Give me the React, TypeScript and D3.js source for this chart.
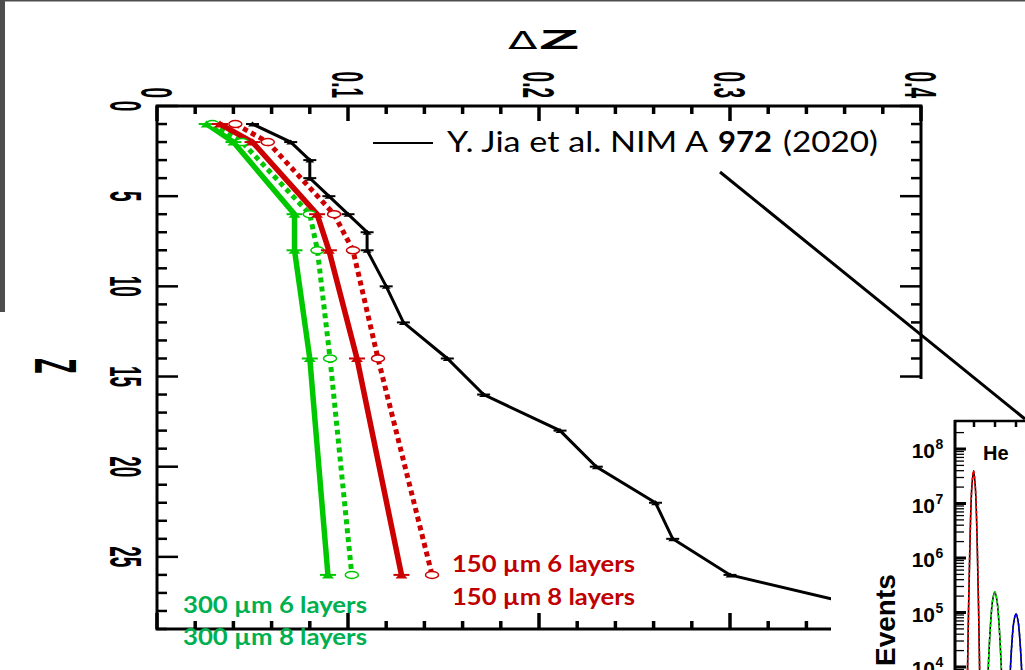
import React from "react";
import * as d3 from "d3";

// ---------- Main chart data (ΔZ versus Z) ----------
const sampleZ = [1, 2, 6, 8, 14, 26];
const green8Layers = [0.026, 0.04, 0.072, 0.072, 0.08, 0.0895]; // solid green
const green6Layers = [0.029, 0.0445, 0.08, 0.084, 0.0906, 0.102]; // dotted green
const red8Layers = [0.033, 0.05, 0.0838, 0.09, 0.1047, 0.128]; // solid red
const red6Layers = [0.041, 0.058, 0.0927, 0.1026, 0.1157, 0.144]; // dotted red

const jiaZ = [1, 2, 3, 4, 5, 6, 7, 8, 10, 12, 14, 16, 18, 20, 22, 24, 26, 28];
const jiaDZ = [0.05, 0.07, 0.08, 0.08, 0.09, 0.1, 0.11, 0.11, 0.12, 0.129, 0.152, 0.171, 0.211, 0.23, 0.261, 0.27, 0.3, 0.38];

const dzTicks = [0, 0.1, 0.2, 0.3, 0.4];
const zTicks = [0, 5, 10, 15, 20, 25];

// ---------- Inset data (Events vs charge) ----------
const heZ = [1.66, 1.74, 1.82, 1.9, 1.98, 2.06, 2.14, 2.22, 2.3];
const heEvents = [1.3e3, 1.1e5, 3e6, 2.1e7, 4e7, 2.1e7, 3e6, 1.1e5, 1.3e3];
const liZ = [2.59, 2.69, 2.79, 2.89, 2.99, 3.09, 3.19, 3.29, 3.39];
const liEvents = [1.2e3, 1.2e4, 6.3e4, 1.7e5, 2.4e5, 1.7e5, 6.3e4, 1.2e4, 1.2e3];
const beZ = [3.6, 3.7, 3.8, 3.9, 4.0, 4.1, 4.2, 4.3, 4.4];
const beEvents = [5e2, 4.9e3, 2.6e4, 6.9e4, 9.5e4, 6.9e4, 2.6e4, 4.9e3, 5e2];
const insetDecades = [4, 5, 6, 7, 8];
const insetXTicks = [2, 3, 4];

const ROOTFONT = "'Liberation Sans', Arial, sans-serif";
const SLIDEFONT = "Lato, 'Open Sans', sans-serif";
const K = 2.35; // horizontal stretch of the pasted ROOT picture

const GREEN = "#00c800";
const RED = "#cc0000";

export default function App() {
  const x = d3.scaleLinear().domain([0, 0.4]).range([157, 921]);
  const y = d3.scaleLinear().domain([0, 29]).range([106, 629]);

  const line = d3
    .line<[number, number]>()
    .x((d) => x(d[1]))
    .y((d) => y(d[0]));

  const pairs = (zs: number[], vs: number[]) => zs.map((z, i) => [z, vs[i]] as [number, number]);

  const xMinor = d3.range(0, 0.4001, 0.02);
  const yMinor = d3.range(0, 30, 1);

  // inset scales
  const xi = d3.scaleLinear().domain([2, 4]).range([974, 1016]);
  const yi = d3.scaleLog().domain([1e4, 1e8]).range([667, 449]);
  const iline = d3
    .line<[number, number]>()
    .x((d) => xi(d[0]))
    .y((d) => yi(d[1]))
    .curve(d3.curveCatmullRom);
  const logMinor: number[] = [];
  for (let e = 3; e <= 8; e++) for (let m = 2; m <= 9; m++) logMinor.push(m * Math.pow(10, e));

  const triMarker = (cx: number, cy: number, color: string, w = 12, h = 7) => (
    <g>
      <path d={`M${cx - w / 2},${cy + h / 2}L${cx + w / 2},${cy + h / 2}L${cx},${cy - h / 2}Z`} fill={color} />
      <line x1={cx - w / 2 - 2} x2={cx + w / 2 + 2} y1={cy} y2={cy} stroke={color} strokeWidth={2} />
    </g>
  );
  const circMarker = (cx: number, cy: number, color: string) => (
    <ellipse cx={cx} cy={cy} rx={6.5} ry={3.5} fill="white" stroke={color} strokeWidth={1.5} />
  );

  const series = [
    { v: green6Layers, color: GREEN, dotted: true },
    { v: red6Layers, color: RED, dotted: true },
    { v: green8Layers, color: GREEN, dotted: false },
    { v: red8Layers, color: RED, dotted: false },
  ];

  return (
    <svg
      width={1025}
      height={670}
      style={{ position: "absolute", left: 0, top: 0, background: "white" }}
      fontFamily={ROOTFONT}
    >
      <rect x={0} y={0} width={1025} height={670} fill="white" />
      {/* slide edges */}
      <rect x={0} y={0} width={1025} height={1.5} fill="#4d4d4d" />
      <rect x={0} y={0} width={5} height={312} fill="#4d4d4d" />

      {/* data lines */}
      {series.map((s, i) => (
        <path
          key={"s" + i}
          d={line(pairs(sampleZ, s.v)) || ""}
          fill="none"
          stroke={s.color}
          strokeWidth={s.dotted ? 5 : 5.5}
          strokeDasharray={s.dotted ? "5 4" : undefined}
        />
      ))}
      <path d={line(pairs(jiaZ, jiaDZ)) || ""} fill="none" stroke="black" strokeWidth={3} />
      {series.map((s, i) => (
        <g key={"m" + i}>
          {sampleZ.map((z, j) =>
            s.dotted ? (
              <g key={j}>{circMarker(x(s.v[j]), y(z), s.color)}</g>
            ) : (
              <g key={j}>{triMarker(x(s.v[j]), y(z), s.color)}</g>
            )
          )}
        </g>
      ))}
      {jiaZ.map((z, j) => (
        <g key={"j" + j}>{triMarker(x(jiaDZ[j]), y(z), "black", 9, 5)}</g>
      ))}

      {/* frame */}
      <rect x={157} y={106} width={764} height={523} fill="none" stroke="black" strokeWidth={3} />
      {xMinor.map((v, i) => {
        const major = i % 5 === 0;
        return (
          <g key={"xt" + i}>
            <line x1={x(v)} x2={x(v)} y1={106} y2={106 + (major ? 15 : 8)} stroke="black" strokeWidth={3.5} />
            <line x1={x(v)} x2={x(v)} y1={629} y2={629 - (major ? 16 : 8)} stroke="black" strokeWidth={3.5} />
          </g>
        );
      })}
      {yMinor.map((v, i) => {
        const major = v % 5 === 0;
        return (
          <g key={"yt" + i}>
            <line x1={157} x2={157 + (major ? 21 : 10)} y1={y(v)} y2={y(v)} stroke="black" strokeWidth={2.5} />
            <line x1={921} x2={921 - (major ? 21 : 10)} y1={y(v)} y2={y(v)} stroke="black" strokeWidth={2.5} />
          </g>
        );
      })}

      {/* tick labels (rotated, stretched) */}
      {dzTicks.map((v) => (
        <text
          key={"dl" + v}
          transform={`translate(${x(v) - (K * 0.716 * 19) / 2},98) scale(${K},1) rotate(90)`}
          textAnchor="end"
          fontSize={19}
          fontWeight="bold"
        >
          {v === 0 ? "0" : v.toFixed(1)}
        </text>
      ))}
      {zTicks.map((v) => (
        <text
          key={"zl" + v}
          transform={`translate(110,${y(v)}) scale(${K},1) rotate(90)`}
          textAnchor="middle"
          fontSize={19}
          fontWeight="bold"
        >
          {v}
        </text>
      ))}
      <text transform={`translate(35,366) scale(${K},1) rotate(90)`} textAnchor="middle" fontSize={25} fontWeight="bold">
        Z
      </text>
      <text transform="translate(508,49) scale(1.8,1)" fontSize={24} fontFamily="'DejaVu Sans', sans-serif">
        Δ
      </text>
      <text transform={`translate(539,49) scale(${K},1)`} fontSize={28} fontWeight="bold">
        Z
      </text>

      {/* legend */}
      <line x1={373} x2={433} y1={143} y2={143} stroke="black" strokeWidth={2} />
      <text x={447} y={152} fontFamily={SLIDEFONT} fontSize={29} textLength={261} lengthAdjust="spacingAndGlyphs">
        Y. Jia et al. NIM A
      </text>
      <text x={718} y={152} fontFamily={SLIDEFONT} fontSize={29} fontWeight="bold" textLength={54} lengthAdjust="spacingAndGlyphs">
        972
      </text>
      <text x={783} y={152} fontFamily={SLIDEFONT} fontSize={29} textLength={95} lengthAdjust="spacingAndGlyphs">
        (2020)
      </text>

      {/* series labels */}
      <g fontFamily={SLIDEFONT} fontSize={22} fontWeight="bold">
        <text x={452} y={572} fill="#c00000" textLength={183} lengthAdjust="spacingAndGlyphs">150 µm 6 layers</text>
        <text x={452} y={605} fill="#c00000" textLength={183} lengthAdjust="spacingAndGlyphs">150 µm 8 layers</text>
        <text x={183} y={613} fill="#00b050" textLength={184} lengthAdjust="spacingAndGlyphs">300 µm 6 layers</text>
        <text x={183} y={645} fill="#00b050" textLength={184} lengthAdjust="spacingAndGlyphs">300 µm 8 layers</text>
      </g>

      {/* inset background covering the main picture */}
      <rect x={831} y={379} width={194} height={291} fill="white" />

      {/* inset */}
      <g>
        <path d={iline(heZ.map((z, i) => [z, heEvents[i]] as [number, number])) || ""} fill="none" stroke="black" strokeWidth={1.6} />
        <path d={iline(heZ.map((z, i) => [z, heEvents[i]] as [number, number])) || ""} fill="none" stroke="red" strokeWidth={1.6} strokeDasharray="3 2" />
        <path d={iline(liZ.map((z, i) => [z, liEvents[i]] as [number, number])) || ""} fill="none" stroke="black" strokeWidth={1.6} />
        <path d={iline(liZ.map((z, i) => [z, liEvents[i]] as [number, number])) || ""} fill="none" stroke="#00ee00" strokeWidth={1.6} strokeDasharray="3 2" />
        <path d={iline(beZ.map((z, i) => [z, beEvents[i]] as [number, number])) || ""} fill="none" stroke="black" strokeWidth={1.6} />
        <path d={iline(beZ.map((z, i) => [z, beEvents[i]] as [number, number])) || ""} fill="none" stroke="blue" strokeWidth={1.6} strokeDasharray="3 2" />
        <rect x={831} y={670} width={194} height={20} fill="white" />
        <line x1={955} x2={955} y1={420} y2={672} stroke="black" strokeWidth={3} />
        <line x1={954} x2={1025} y1={421} y2={421} stroke="black" strokeWidth={2.5} />
        {insetXTicks.map((v) => (
          <line key={"ixt" + v} x1={xi(v)} x2={xi(v)} y1={421} y2={427} stroke="black" strokeWidth={2.5} />
        ))}
        {logMinor
          .filter((v) => yi(v) > 423 && yi(v) < 672)
          .map((v, i) => (
            <line key={"lm" + i} x1={955} x2={964} y1={yi(v)} y2={yi(v)} stroke="black" strokeWidth={1.3} />
          ))}
        {insetDecades.map((e) => (
          <g key={"id" + e}>
            <line x1={955} x2={966} y1={yi(Math.pow(10, e))} y2={yi(Math.pow(10, e))} stroke="black" strokeWidth={3} />
            <text x={935} y={yi(Math.pow(10, e)) + 9} textAnchor="end" fontSize={21} fontWeight="bold">
              10
            </text>
            <text x={935.5} y={yi(Math.pow(10, e))} fontSize={14} fontWeight="bold">
              {e}
            </text>
          </g>
        ))}
        <text x={983} y={460} fontSize={20} fontWeight="bold">
          He
        </text>
        <text transform="translate(895,666) rotate(-90)" fontSize={28} fontWeight="bold">
          Events
        </text>
      </g>

      {/* pointer line */}
      <line x1={720} y1={172} x2={1025} y2={419} stroke="black" strokeWidth={3} />
    </svg>
  );
}
